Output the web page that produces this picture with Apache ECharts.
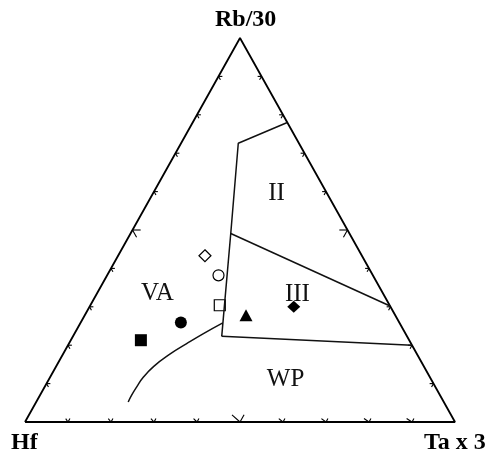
<!DOCTYPE html>
<html>
<head>
<meta charset="utf-8">
<script src="https://cdn.jsdelivr.net/npm/echarts@6/dist/echarts.min.js"></script>
<style>
  html, body { margin: 0; padding: 0; background: #fff; }
  #chart { width: 490px; height: 455px; }
</style>
</head>
<body>
<div id="chart"></div>
<script>
// Hf - Rb/30 - Ta x 3 discrimination diagram
// all ternary points are [Hf, Rb/30, Ta x 3] in percent
const apexLabels = ['Hf', 'Rb/30', 'Ta x 3']
const tickValues = [10, 20, 30, 40, 50, 60, 70, 80, 90]
const majorTick = 50

// field boundaries
const boundaryUpper = [[0, 78, 22], [14.1, 72.6, 13.3], [27.6, 49.1, 23.3], [43.1, 22.3, 34.6]]
const boundaryMiddle = [[27.6, 49.1, 23.3], [0, 30.2, 69.8]]
const boundaryLower = [[43.1, 22.3, 34.6], [0, 20, 80]]
const boundaryCurve = [
  [41.1, 25.8, 33.1], [47.0, 23.0, 30.0], [52.2, 20.4, 27.4], [57.6, 17.6, 24.8],
  [62.8, 14.5, 22.7], [66.6, 11.7, 21.7], [69.5, 9.1, 21.4], [71.7, 7.0, 21.3], [73.4, 5.2, 21.4]
]

// field names
const fieldNames = ['VA', 'II', 'III', 'WP']
const fieldPositions = [[52.5, 33.4, 14.1], [11.8, 59.4, 28.8], [20.0, 33.3, 46.7], [33.8, 11.2, 55.0]]

// samples
const openDiamond = [[36.5, 43.3, 20.2]]
const openCircle = [[35.9, 38.2, 25.9]]
const openSquare = [[39.5, 30.4, 30.1]]
const filledCircle = [[50.8, 25.9, 23.3]]
const filledSquare = [[62.4, 21.3, 16.3]]
const filledTriangle = [[34.7, 27.8, 37.5]]
const filledDiamond = [[22.5, 30.0, 47.5]]

/**
 * 三元坐标 -> 直角坐标 (x = Ta + Rb/2, y = Rb)
 */
const toXY = (p) => {
  const s = p[0] + p[1] + p[2]
  const rb = p[1] / s
  const ta = p[2] / s
  return [ta + rb / 2, rb]
}

// tick marks: two short arms along the grid directions, pointing inside
const tickSegments = []
tickValues.forEach((v) => {
  const d = v === majorTick ? 1.9 : 0.9
  // bottom edge (Rb = 0)
  tickSegments.push([[100 - v, 0, v], [100 - v - d, d, v]])
  tickSegments.push([[100 - v, 0, v], [100 - v + d, d, v - d]])
  // left edge (Ta = 0)
  tickSegments.push([[100 - v, v, 0], [100 - v - d, v, d]])
  tickSegments.push([[100 - v, v, 0], [100 - v, v - d, d]])
  // right edge (Hf = 0)
  tickSegments.push([[0, v, 100 - v], [d, v, 100 - v - d]])
  tickSegments.push([[0, v, 100 - v], [d, v - d, 100 - v]])
})
const tickData = tickSegments.map((s) => toXY(s[0]).concat(toXY(s[1])))

const chart = echarts.init(document.getElementById('chart'))

const lineSeries = (pts, extra) => Object.assign({
  type: 'line',
  data: pts.map(toXY),
  symbol: 'none',
  silent: true,
  lineStyle: { color: '#111', width: 1.5 }
}, extra || {})

const markerSeries = (pts, symbol, size, filled) => ({
  type: 'scatter',
  silent: true,
  data: pts.map(toXY),
  symbol: symbol,
  symbolSize: size,
  itemStyle: filled
    ? { color: '#000', opacity: 1 }
    : { color: '#fff', borderColor: '#000', borderWidth: 1.2, opacity: 1 }
})

const option = {
  animation: false,
  backgroundColor: '#fff',
  grid: { left: 25, right: 35, top: 38, bottom: 33 },
  xAxis: { type: 'value', min: 0, max: 1, show: false },
  yAxis: { type: 'value', min: 0, max: 1, show: false },
  graphic: [
    { type: 'text', left: 215, top: 8, style: { text: apexLabels[1], font: 'bold 24px "Liberation Serif"', fill: '#000' } },
    { type: 'text', left: 11, top: 431, style: { text: apexLabels[0], font: 'bold 24px "Liberation Serif"', fill: '#000' } },
    { type: 'text', left: 424, top: 431, style: { text: apexLabels[2], font: 'bold 24px "Liberation Serif"', fill: '#000' } }
  ],
  series: [
    lineSeries([[100, 0, 0], [0, 0, 100], [0, 100, 0], [100, 0, 0]], { lineStyle: { color: '#000', width: 1.8 } }),
    {
      type: 'custom',
      silent: true,
      data: tickData,
      encode: { x: [0, 2], y: [1, 3] },
      renderItem: (params, api) => {
        const a = api.coord([api.value(0), api.value(1)])
        const b = api.coord([api.value(2), api.value(3)])
        return {
          type: 'line',
          shape: { x1: a[0], y1: a[1], x2: b[0], y2: b[1] },
          style: { stroke: '#000', lineWidth: 1.1 }
        }
      }
    },
    lineSeries(boundaryUpper),
    lineSeries(boundaryMiddle),
    lineSeries(boundaryLower),
    lineSeries(boundaryCurve, { smooth: 0.5 }),
    {
      type: 'scatter',
      silent: true,
      symbolSize: 0,
      itemStyle: { opacity: 1 },
      data: fieldPositions.map((p, i) => ({ value: toXY(p), name: fieldNames[i] })),
      label: {
        show: true,
        position: 'inside',
        formatter: '{b}',
        fontFamily: 'Liberation Serif',
        fontSize: 25,
        color: '#111',
        opacity: 1
      }
    },
    markerSeries(openDiamond, 'diamond', [12, 12], false),
    markerSeries(openCircle, 'circle', 11, false),
    markerSeries(openSquare, 'rect', 11, false),
    markerSeries(filledCircle, 'circle', 12, true),
    markerSeries(filledSquare, 'rect', 12, true),
    markerSeries(filledTriangle, 'triangle', [13, 12], true),
    markerSeries(filledDiamond, 'diamond', [13, 12], true)
  ]
}

chart.setOption(option)
</script>
</body>
</html>
